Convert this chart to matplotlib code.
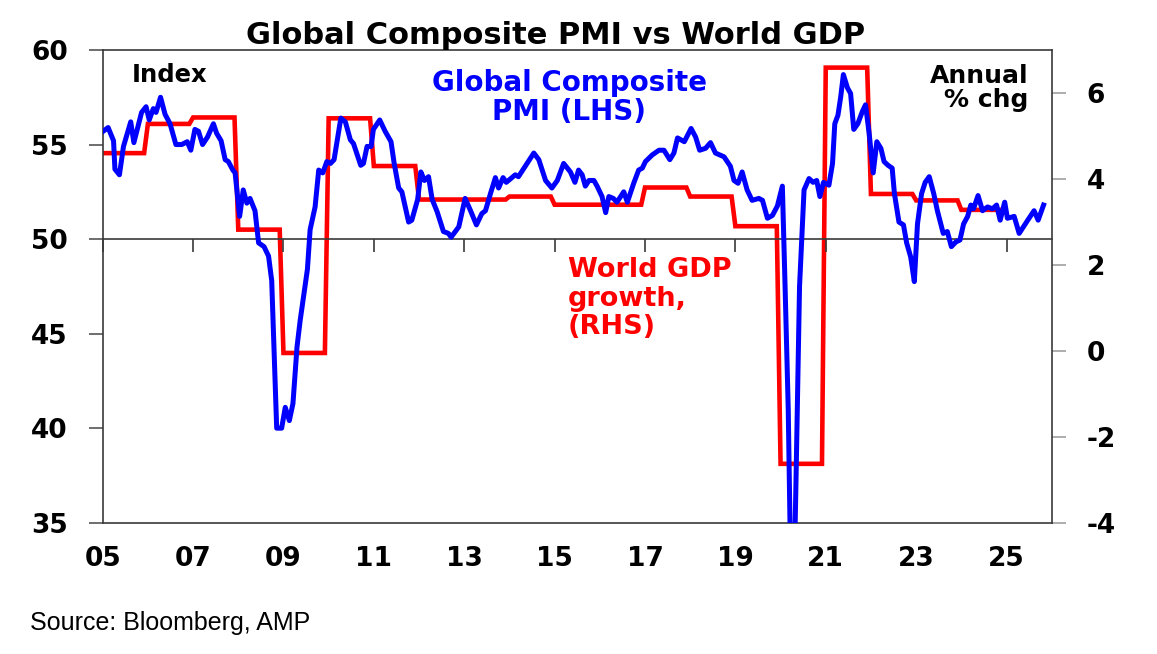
import matplotlib
matplotlib.use("Agg")
import matplotlib.pyplot as plt
import numpy as np

plt.rcParams["axes.unicode_minus"] = False

# Global Composite PMI (LHS) (decimal year, index)
pmi_dates = [
    2005.01, 2005.12, 2005.24, 2005.27, 2005.37, 2005.46, 2005.62, 2005.69, 2005.86, 2005.96,
    2006.03, 2006.12, 2006.18, 2006.28, 2006.38, 2006.49, 2006.62, 2006.75, 2006.87, 2006.95,
    2007.04, 2007.12, 2007.21, 2007.32, 2007.45, 2007.52, 2007.62, 2007.71, 2007.78, 2007.88, 2007.93,
    2008.03, 2008.11, 2008.19, 2008.26, 2008.37, 2008.45, 2008.57, 2008.67, 2008.74, 2008.85, 2008.96,
    2009.04, 2009.13, 2009.21, 2009.30, 2009.37, 2009.53, 2009.59, 2009.70, 2009.78, 2009.87, 2009.96,
    2010.04, 2010.12, 2010.27, 2010.37, 2010.48, 2010.55, 2010.71, 2010.77, 2010.85, 2010.94, 2010.99,
    2011.13, 2011.25, 2011.38, 2011.45, 2011.55, 2011.62, 2011.77, 2011.84, 2011.97,
    2012.04, 2012.12, 2012.21, 2012.29, 2012.40, 2012.54, 2012.65, 2012.71, 2012.88,
    2013.02, 2013.14, 2013.27, 2013.39, 2013.47, 2013.58, 2013.69, 2013.76, 2013.86, 2013.93,
    2014.13, 2014.20, 2014.39, 2014.54, 2014.65, 2014.80, 2014.94,
    2015.06, 2015.20, 2015.35, 2015.45, 2015.53, 2015.61, 2015.68, 2015.76, 2015.87, 2015.94,
    2016.05, 2016.13, 2016.20, 2016.30, 2016.38, 2016.53, 2016.61, 2016.75, 2016.86, 2016.94,
    2017.01, 2017.16, 2017.31, 2017.42, 2017.55, 2017.64, 2017.72, 2017.87,
    2018.02, 2018.12, 2018.21, 2018.34, 2018.45, 2018.56, 2018.75, 2018.89, 2018.97,
    2019.06, 2019.15, 2019.26, 2019.37, 2019.52, 2019.60, 2019.71, 2019.82, 2019.93,
    2020.04, 2020.10, 2020.17, 2020.26, 2020.34, 2020.42, 2020.52, 2020.63, 2020.72, 2020.80, 2020.87, 2020.95,
    2021.07, 2021.15, 2021.20, 2021.27, 2021.33, 2021.39, 2021.48, 2021.55, 2021.62, 2021.71, 2021.81, 2021.88, 2021.96,
    2022.05, 2022.13, 2022.22, 2022.29, 2022.38, 2022.47, 2022.52, 2022.62, 2022.72, 2022.79, 2022.88, 2022.96,
    2023.03, 2023.12, 2023.20, 2023.29, 2023.39, 2023.47, 2023.60, 2023.69, 2023.78, 2023.88, 2023.97,
    2024.05, 2024.14, 2024.21, 2024.27, 2024.37, 2024.47, 2024.58, 2024.69, 2024.78, 2024.86, 2024.96,
    2025.02, 2025.17, 2025.28, 2025.47, 2025.61, 2025.70, 2025.82,
]
pmi_values = [
    55.7, 55.9, 55.2, 53.7, 53.4, 54.9, 56.2, 55.1, 56.7, 57.0,
    56.3, 56.9, 56.7, 57.5, 56.6, 56.1, 55.0, 55.0, 55.15, 54.7,
    55.8, 55.7, 55.0, 55.4, 56.1, 55.6, 55.2, 54.2, 54.1, 53.65, 53.5,
    51.2, 52.6, 51.9, 52.15, 51.5, 49.8, 49.6, 49.1, 47.8, 40.0, 40.0,
    41.1, 40.4, 41.3, 44.3, 45.7, 48.4, 50.5, 51.7, 53.65, 53.5, 54.1,
    54.0, 54.2, 56.4, 56.2, 55.25, 55.05, 53.9, 54.0, 54.9, 54.9, 55.8,
    56.3, 55.7, 55.15, 54.0, 52.7, 52.5, 50.9, 51.0, 52.1,
    53.55, 53.1, 53.3, 52.1, 51.45, 50.4, 50.3, 50.1, 50.65,
    52.15, 51.5, 50.75, 51.35, 51.5, 52.4, 53.25, 52.7, 53.25, 53.0,
    53.4, 53.3, 54.0, 54.55, 54.2, 53.1, 52.7,
    53.1, 54.0, 53.55, 53.0, 53.65, 53.4, 52.8, 53.1, 53.1, 52.8,
    52.25, 51.4, 52.25, 52.15, 51.95, 52.5, 51.95, 52.95, 53.65, 53.75,
    54.1, 54.45, 54.7, 54.7, 54.2, 54.55, 55.35, 55.15,
    55.85, 55.4, 54.7, 54.8, 55.1, 54.55, 54.35, 53.85, 53.1,
    52.95, 53.55, 52.6, 52.05, 52.15, 52.05, 51.1, 51.25, 51.75,
    52.8, 47.5, 41.0, 27.0, 37.0, 47.5, 52.6, 53.2, 53.0, 53.1, 52.25, 53.0,
    52.85, 54.0, 56.1, 56.55, 57.5, 58.7, 58.0, 57.7, 55.8, 56.1, 56.75, 57.1, 55.6,
    53.5, 55.15, 54.8, 54.1, 53.9, 53.75, 52.4, 50.9, 50.75, 49.8, 49.05, 47.75,
    50.8, 52.4, 53.0, 53.3, 52.4, 51.5, 50.3, 50.4, 49.6, 49.85, 49.95,
    50.8, 51.2, 51.8, 51.6, 52.3, 51.5, 51.7, 51.6, 51.8, 51.0, 51.95,
    51.1, 51.2, 50.3, 51.0, 51.5, 51.0, 51.8,
]

# World GDP growth (RHS), annual % change
gdp_years = list(range(2005, 2025))
gdp_growth = [4.6, 5.28, 5.43, 2.82, -0.05, 5.41, 4.30, 3.52, 3.52, 3.59,
              3.40, 3.40, 3.80, 3.59, 2.90, -2.63, 6.59, 3.65, 3.50, 3.28]

x_ticks = list(range(2005, 2026, 2))
x_labels = ["05", "07", "09", "11", "13", "15", "17", "19", "21", "23", "25"]

# annual values held for every month of the year
gdp_x = np.arange(gdp_years[0], gdp_years[-1] + 1, 1 / 12)
gdp_y = np.repeat(gdp_growth, 12)

W, H = 1157, 654
fig = plt.figure(figsize=(W / 100, H / 100), dpi=100, facecolor="white")
ax = fig.add_axes([102.7 / W, 1 - 522.7 / H, 949 / W, 472.7 / H])
ax2 = ax.twinx()
ax.set_zorder(2)
ax2.set_zorder(1)
ax.patch.set_visible(False)

frame = "#3a3a3a"
bold = dict(family="DejaVu Sans", weight="bold")

ax2.plot(gdp_x, gdp_y, color="#ff0000", lw=3.3, solid_joinstyle="miter")
ax.plot(pmi_dates, pmi_values, color="#0000ff", lw=3.6, zorder=3)

ax.set_xlim(2005, 2026)
ax.set_ylim(35, 60)
ax2.set_ylim(-4, 7)

# frame and the 50 line
for s in ["top", "left"]:
    ax.spines[s].set_color(frame)
    ax.spines[s].set_linewidth(1.2)
ax.spines["right"].set_visible(False)
ax.spines["bottom"].set_position(("data", 50))
ax.spines["bottom"].set_color(frame)
ax.spines["bottom"].set_linewidth(1.2)
for s in ["left", "top"]:
    ax2.spines[s].set_visible(False)
for s in ["right", "bottom"]:
    ax2.spines[s].set_color(frame)
    ax2.spines[s].set_linewidth(1.2)

ax.set_xticks(x_ticks)
ax.set_xticklabels(x_labels)
ax.tick_params(axis="x", direction="out", length=9, width=1.2, color=frame, labelbottom=False)
ax2.xaxis.set_visible(True)
ax2.tick_params(axis="x", bottom=True, length=0, labelbottom=True, pad=17)

ax.set_yticks([35, 40, 45, 50, 55, 60])
ax.tick_params(axis="y", direction="out", length=10, width=1.2, color="#555555", pad=15)
ax2.set_yticks([-4, -2, 0, 2, 4, 6])
ax2.tick_params(axis="y", direction="out", length=10, width=1.2, color="#a0a0a0", pad=15)

for lab in ax.get_yticklabels() + ax2.get_yticklabels() + ax2.get_xticklabels():
    lab.set_fontsize(19)
    lab.set_fontweight("bold")
    lab.set_family("DejaVu Sans")

def fy(y):
    return 1 - y / H

fig.text(555.5 / W, fy(43.5), "Global Composite PMI vs World GDP", ha="center", va="baseline",
         fontsize=22, **bold)
fig.text(131.5 / W, fy(81.7), "Index", ha="left", va="baseline", fontsize=17.5, **bold)
fig.text(1028 / W, fy(83.3), "Annual", ha="right", va="baseline", fontsize=18, **bold)
fig.text(1028 / W, fy(107.5), "% chg", ha="right", va="baseline", fontsize=18, **bold)
fig.text(569.5 / W, fy(91), "Global Composite", ha="center", va="baseline", fontsize=20,
         color="#0000ff", **bold)
fig.text(569.5 / W, fy(120), "PMI (LHS)", ha="center", va="baseline", fontsize=20,
         color="#0000ff", **bold)
for txt, yb in [("World GDP", 276.7), ("growth,", 305.5), ("(RHS)", 334.5)]:
    fig.text(568 / W, fy(yb), txt, ha="left", va="baseline", fontsize=19.5, color="#ff0000", **bold)
fig.text(30 / W, fy(630), "Source: Bloomberg, AMP", ha="left", va="baseline", fontsize=18,
         family="Liberation Sans")

fig.savefig("out.png", dpi=100, facecolor="white")
